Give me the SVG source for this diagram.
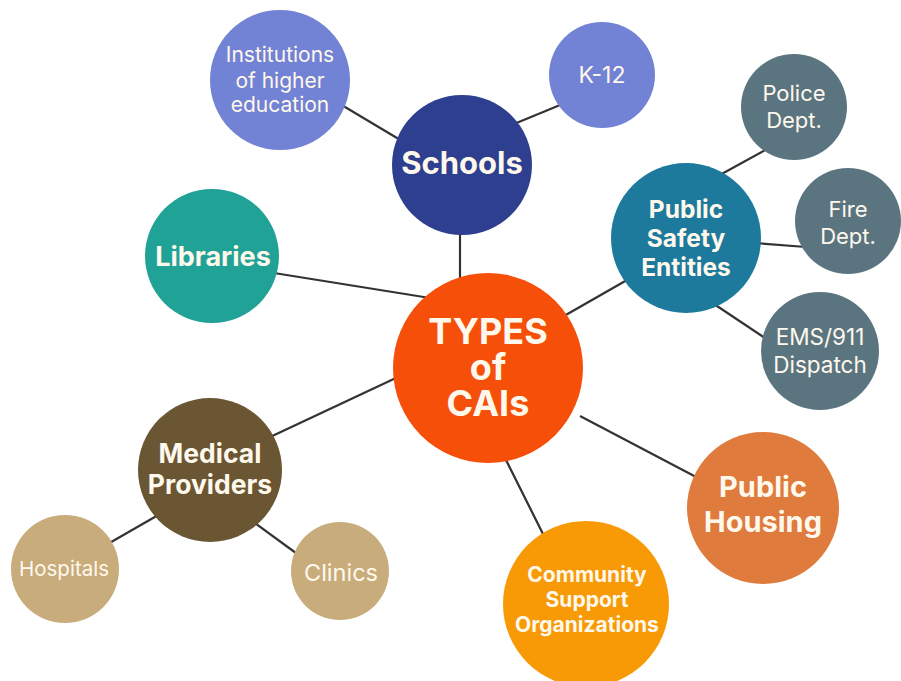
<svg xmlns="http://www.w3.org/2000/svg" width="901" height="681" viewBox="0 0 901 681">
<style>
.ln{stroke:#333;stroke-width:2.2;fill:none}
text{font-family:Inter,"Liberation Sans",sans-serif;text-anchor:middle;fill:#FFF8EC}
.b{font-weight:700}
.r{font-weight:400}
</style>
<rect width="901" height="681" fill="#fff"/>
<g id="connectors">
<line class="ln" x1="340" y1="104" x2="402" y2="141"/>
<line class="ln" x1="565" y1="103" x2="514" y2="124"/>
<line class="ln" x1="460" y1="230" x2="460" y2="280"/>
<line class="ln" x1="274" y1="273" x2="430" y2="298"/>
<line class="ln" x1="564" y1="316" x2="627" y2="280"/>
<line class="ln" x1="718" y1="176" x2="767" y2="149"/>
<line class="ln" x1="755" y1="243" x2="806" y2="247"/>
<line class="ln" x1="714" y1="304" x2="768" y2="340"/>
<line class="ln" x1="268" y1="438" x2="398" y2="377"/>
<line class="ln" x1="106" y1="545" x2="160" y2="514"/>
<line class="ln" x1="252" y1="521" x2="300" y2="556"/>
<line class="ln" x1="504" y1="456" x2="545" y2="538"/>
<line class="ln" x1="580" y1="416" x2="698" y2="478"/>
</g>
<g id="institutions"><circle cx="280" cy="80" r="70" fill="#7282D4"/>
<text class="r" font-size="21" x="280" y="62">Institutions</text>
<text class="r" font-size="21" x="280" y="88">of higher</text>
<text class="r" font-size="21" x="280" y="112">education</text></g>
<g id="k12"><circle cx="602" cy="75" r="53" fill="#7282D4"/>
<text class="r" font-size="23" x="602" y="83">K-12</text></g>
<g id="schools"><circle cx="462" cy="165" r="70" fill="#2E3F8F"/>
<text class="b" font-size="31" x="462" y="174">Schools</text></g>
<g id="libraries"><circle cx="212" cy="256" r="67" fill="#20A396"/>
<text class="b" font-size="27" x="213" y="266">Libraries</text></g>
<g id="publicsafety"><circle cx="686" cy="238" r="75" fill="#1D7A9C"/>
<text class="b" font-size="24.5" x="686" y="218">Public</text>
<text class="b" font-size="24.5" x="686" y="247">Safety</text>
<text class="b" font-size="24.5" x="686" y="276">Entities</text></g>
<g id="police"><circle cx="794" cy="107" r="53" fill="#5B7580"/>
<text class="r" font-size="22" x="794" y="101">Police</text>
<text class="r" font-size="22" x="794" y="128">Dept.</text></g>
<g id="fire"><circle cx="848" cy="221" r="53" fill="#5B7580"/>
<text class="r" font-size="22" x="848" y="217">Fire</text>
<text class="r" font-size="22" x="848" y="244">Dept.</text></g>
<g id="ems"><circle cx="820" cy="351" r="59" fill="#5B7580"/>
<text class="r" font-size="22.5" x="820" y="345">EMS/911</text>
<text class="r" font-size="22.5" x="820" y="373">Dispatch</text></g>
<g id="center"><circle cx="488" cy="368" r="95" fill="#F54F09"/>
<text class="b" font-size="36" x="488" y="344">TYPES</text>
<text class="b" font-size="36" x="488" y="380">of</text>
<text class="b" font-size="36" x="488" y="416">CAIs</text></g>
<g id="medical"><circle cx="210" cy="470" r="72" fill="#6B5634"/>
<text class="b" font-size="26.5" x="210" y="463">Medical</text>
<text class="b" font-size="26.5" x="210" y="494">Providers</text></g>
<g id="hospitals"><circle cx="65" cy="569" r="54" fill="#C8AC7C"/>
<text class="r" font-size="20.5" x="64" y="576">Hospitals</text></g>
<g id="clinics"><circle cx="340" cy="571" r="49" fill="#C8AC7C"/>
<text class="r" font-size="23.5" x="341" y="581">Clinics</text></g>
<g id="community"><circle cx="586" cy="604" r="83" fill="#F79A05"/>
<text class="b" font-size="21" x="587" y="582">Community</text>
<text class="b" font-size="21" x="587" y="607">Support</text>
<text class="b" font-size="21" x="587" y="632">Organizations</text></g>
<g id="housing"><circle cx="763" cy="508" r="76" fill="#E07B3E"/>
<text class="b" font-size="29" x="763" y="497">Public</text>
<text class="b" font-size="29" x="763" y="532">Housing</text></g>
</svg>
